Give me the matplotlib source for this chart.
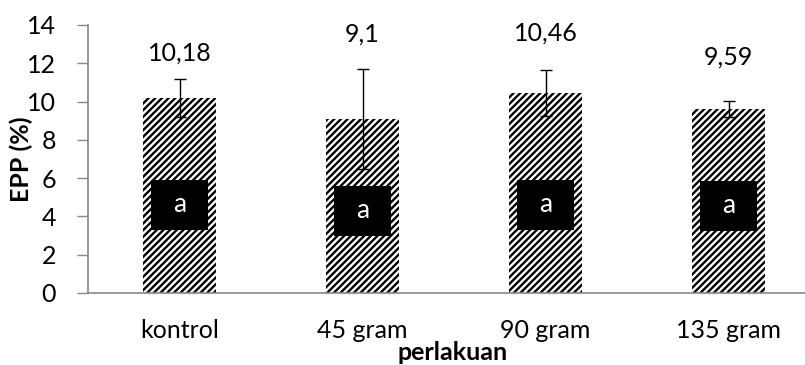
import matplotlib
matplotlib.use("Agg")
import matplotlib.pyplot as plt
from matplotlib.patches import Rectangle
import numpy as np

categories = ["kontrol", "45 gram", "90 gram", "135 gram"]
values = [10.18, 9.1, 10.46, 9.59]
errors = [1.0, 2.62, 1.2, 0.42]
value_labels = ["10,18", "9,1", "10,46", "9,59"]
label_y = [12.55, 13.5, 13.6, 12.35]
letters = ["a", "a", "a", "a"]
letter_y = [4.6, 4.3, 4.6, 4.55]
yticks = [0, 2, 4, 6, 8, 10, 12, 14]

plt.rcParams['font.family'] = ['Lato', 'DejaVu Sans']
plt.rcParams['hatch.linewidth'] = 1.7
plt.rcParams['hatch.color'] = 'black'

FS = 18

fig = plt.figure(figsize=(8.05, 3.65), dpi=100)
ax = fig.add_axes([88/805, 72/365, 732/805, 268/365])
x = np.arange(len(categories))
ax.bar(x, values, width=0.4, color='white', edgecolor='black', hatch='/////', linewidth=0)
ax.errorbar(x, values, yerr=errors, fmt='none', ecolor='black', elinewidth=1.0, capsize=4.5, capthick=1.0)

for xi, v, lab, ly, let, lty in zip(x, values, value_labels, label_y, letters, letter_y):
    ax.text(xi, ly, lab, ha='center', va='center', fontsize=FS, color='black')
    ax.add_patch(Rectangle((xi - 0.155, lty - 1.31), 0.31, 2.62, facecolor='black', edgecolor='none', zorder=3))
    ax.text(xi, lty, let, ha='center', va='center', fontsize=FS + 1, color='white', zorder=4)

ax.set_xlim(-0.5, 3.5)
ax.set_ylim(0, 14)
ax.set_yticks(yticks)
ax.set_xticks(x)
ax.set_xticklabels(categories)
ax.tick_params(axis='y', length=8, width=1, color='#888888', labelsize=FS, pad=15, direction='out')
ax.tick_params(axis='x', length=0, labelsize=FS, pad=19)
for s in ['top', 'right']:
    ax.spines[s].set_visible(False)
for s in ['left', 'bottom']:
    ax.spines[s].set_color('#888888')
    ax.spines[s].set_linewidth(1.2)
ax.set_ylabel("EPP (%)", fontsize=FS, fontweight='bold')
ax.yaxis.set_label_coords(-(88-33)/732, 0.5)
ax.set_xlabel("perlakuan", fontsize=FS, fontweight='bold', va='center')
ax.xaxis.set_label_coords((453-88)/732, -(352-293)/268)

fig.savefig("out.png", dpi=100)
